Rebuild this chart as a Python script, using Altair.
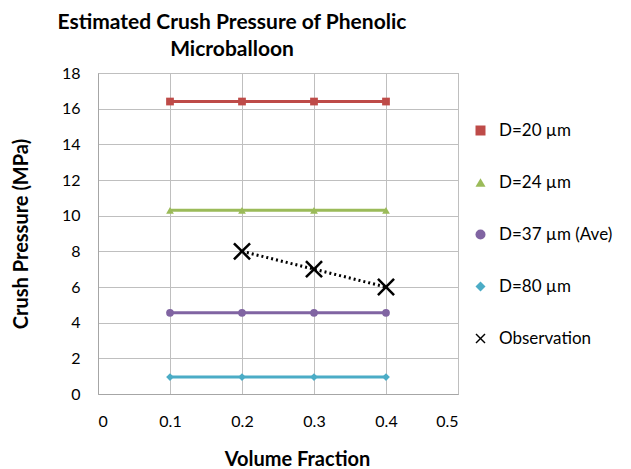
import altair as alt
import pandas as pd

# ---- data ----
volume_fraction = [0.1, 0.2, 0.3, 0.4]
d20 = [16.4, 16.4, 16.4, 16.4]
d24 = [10.3, 10.3, 10.3, 10.3]
d37 = [4.55, 4.55, 4.55, 4.55]
d80 = [0.95, 0.95, 0.95, 0.95]
obs_fraction = [0.2, 0.3, 0.4]
observation = [8, 7, 6]

series_names = ["D=20 µm", "D=24 µm", "D=37 µm (Ave)", "D=80 µm", "Observation"]
colors = ["#BE4B48", "#9BBB59", "#8064A2", "#4BACC6", "#000000"]
x_path = "M-1,-0.8L-0.8,-1L0,-0.2L0.8,-1L1,-0.8L0.2,0L1,0.8L0.8,1L0,0.2L-0.8,1L-1,0.8L-0.2,0Z"
shapes = ["square", "triangle-up", "circle", "diamond", x_path]
dashes = [[1, 0], [1, 0], [1, 0], [1, 0], [2, 3]]

rows = []
for name, vals in zip(series_names[:4], [d20, d24, d37, d80]):
    for x, y in zip(volume_fraction, vals):
        rows.append({"series": name, "x": x, "y": y})
for x, y in zip(obs_fraction, observation):
    rows.append({"series": "Observation", "x": x, "y": y})
df = pd.DataFrame(rows)

FONT = "Lato"

color_scale = alt.Scale(domain=series_names, range=colors)
legend = alt.Legend(title=None, orient="none", legendX=374, legendY=49,
                    labelFont=FONT, labelFontSize=17, labelColor="#000000",
                    symbolSize=100, rowPadding=34, labelOffset=10,
                    symbolStrokeWidth=0)

base = alt.Chart(df).encode(
    x=alt.X("x:Q", scale=alt.Scale(domain=[0, 0.5], nice=False),
            axis=alt.Axis(title="Volume Fraction", values=[0, 0.1, 0.2, 0.3, 0.4, 0.5],
                          format="~g", titlePadding=20, labelPadding=19, titleX=199)),
    y=alt.Y("y:Q", scale=alt.Scale(domain=[0, 18], nice=False),
            axis=alt.Axis(title="Crush Pressure (MPa)", values=list(range(0, 19, 2)),
                          titlePadding=30, labelPadding=18)),
)

lines = base.mark_line(strokeWidth=3).encode(
    color=alt.Color("series:N", scale=color_scale, legend=legend),
    strokeDash=alt.StrokeDash("series:N", scale=alt.Scale(domain=series_names, range=dashes), legend=None),
    detail="series:N",
)

points_main = base.transform_filter(alt.datum.series != "Observation").mark_point(
    filled=True, opacity=1, size=60).encode(
    color=alt.Color("series:N", scale=color_scale, legend=legend),
    shape=alt.Shape("series:N", scale=alt.Scale(domain=series_names, range=shapes), legend=legend),
)

points_obs = base.transform_filter(alt.datum.series == "Observation").mark_point(
    filled=True, opacity=1, size=320).encode(
    color=alt.Color("series:N", scale=color_scale, legend=legend),
    shape=alt.Shape("series:N", scale=alt.Scale(domain=series_names, range=shapes), legend=legend),
)

chart = alt.layer(lines, points_main, points_obs).properties(
    width=360,
    height=321,
    padding={"left": 98, "top": 73, "right": 173, "bottom": 75},
    autosize=alt.AutoSizeParams(type="none"),
    title=alt.Title(["Estimated Crush Pressure of Phenolic", "Microballoon"],
                    font=FONT, fontSize=21, fontWeight="bold", color="#000000",
                    anchor="middle", dx=-46, offset=5, lineHeight=27),
).configure_view(stroke="#A6A6A6", strokeWidth=1).configure_axis(
    labelFont=FONT, labelFontSize=16, labelColor="#000000",
    titleFont=FONT, titleFontSize=20, titleFontWeight="bold", titleColor="#000000",
    gridColor="#BFBFBF", gridWidth=1, domainColor="#A6A6A6", ticks=False,
)

chart.save("out.html", embed_options={"renderer": "svg", "actions": False})
